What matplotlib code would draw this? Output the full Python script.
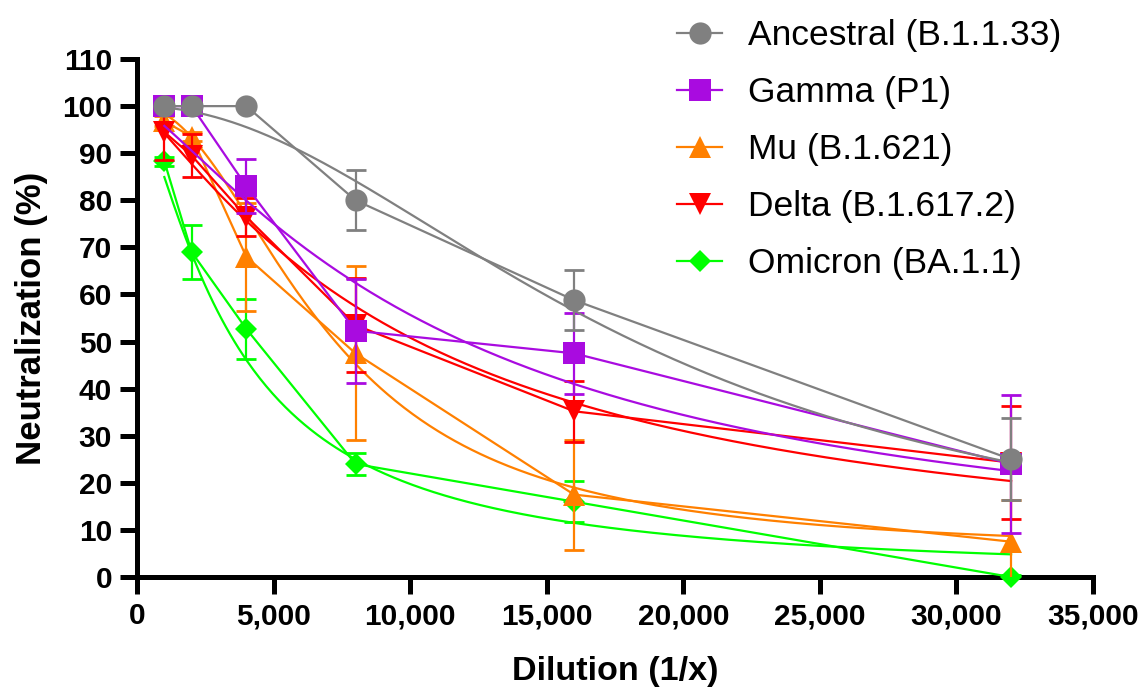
import numpy as np
import matplotlib
matplotlib.use("Agg")
import matplotlib.pyplot as plt

plt.rcParams['font.family'] = ['Liberation Sans', 'DejaVu Sans']

# dilution points (1/x)
dilution = [1000, 2000, 4000, 8000, 16000, 32000]

variants = ['Ancestral (B.1.1.33)', 'Gamma (P1)', 'Mu (B.1.621)',
            'Delta (B.1.617.2)', 'Omicron (BA.1.1)']

# mean neutralization (%)
ancestral = [100, 100, 100, 80.0, 58.8, 25.0]
gamma = [100, 100, 83.0, 52.3, 47.5, 24.0]
mu = [96.8, 93.5, 68.0, 47.5, 17.5, 7.5]
delta = [94.5, 89.5, 76.5, 53.5, 35.2, 24.3]
omicron = [88.3, 69.0, 52.7, 24.0, 16.0, 0.0]

# error (+/-)
ancestral_err = [0, 0, 0, 6.4, 6.4, 8.7]
gamma_err = [0, 0, 5.7, 11.0, 8.6, 14.7]
mu_err = [1.0, 1.0, 11.5, 18.5, 11.7, 8.8]
delta_err = [6.0, 4.5, 4.0, 10.0, 6.5, 12.0]
omicron_err = [1.0, 5.8, 6.4, 2.3, 4.4, 0.5]

# four-parameter logistic fit: top, bottom, IC50, hill slope
fit_top = [100, 100, 100, 100, 100]
fit_bottom = [0, 0, 5, 0, 0]
fit_ic50 = [18240, 11985, 6906, 10280, 3567]
fit_hill = [2.02, 1.26, 2.09, 1.20, 1.36]

colors = ['#808080', '#A90BE0', '#FF8000', '#FF0000', '#00FF00']
markers = ['o', 's', '^', 'v', 'D']
msizes = [16, 15.5, 16, 16, 11.5]

means = [ancestral, gamma, mu, delta, omicron]
errs = [ancestral_err, gamma_err, mu_err, delta_err, omicron_err]
# drawing order (top of stack last)
zorders = [10, 8, 6, 7, 4]

fig = plt.figure(figsize=(11.4, 6.88), dpi=100)
ax = fig.add_axes([0.1202, 0.1613, 0.8386, 0.7529])

xfit = np.linspace(dilution[0], dilution[-1], 400)
handles = []
for i in range(len(variants)):
    z = zorders[i]
    c = colors[i]
    ax.errorbar(dilution, means[i], yerr=errs[i], fmt='none', ecolor=c,
                elinewidth=1.6, capsize=7.5, capthick=2.0, zorder=z)
    yfit = fit_bottom[i] + (fit_top[i] - fit_bottom[i]) / (1 + (xfit / fit_ic50[i]) ** fit_hill[i])
    ax.plot(xfit, yfit, color=c, lw=1.6, zorder=z)
    h, = ax.plot(dilution, means[i], color=c, lw=1.6, marker=markers[i],
                 markersize=msizes[i], markeredgewidth=0, zorder=z + 0.5,
                 clip_on=False, label=variants[i])
    handles.append(h)

ax.set_xlim(0, 35000)
ax.set_ylim(0, 110)
ax.set_xticks(np.arange(0, 35001, 5000))
ax.set_yticks(np.arange(0, 111, 10))
ax.set_xticklabels([f'{v:,}' for v in range(0, 35001, 5000)])

for s in ['top', 'right']:
    ax.spines[s].set_visible(False)
for s in ['left', 'bottom']:
    ax.spines[s].set_linewidth(3.6)
ax.tick_params(axis='both', length=12, width=3.6, labelsize=21.5, pad=6)
for lab in ax.get_xticklabels() + ax.get_yticklabels():
    lab.set_fontweight('bold')

ax.set_xlabel('Dilution (1/x)', fontsize=24.6, fontweight='bold', labelpad=19)
ax.set_ylabel('Neutralization (%)', fontsize=25, fontweight='bold', labelpad=10)

fig.legend(handles=handles, loc='upper left', bbox_to_anchor=(0.5815, 0.993),
           frameon=False, fontsize=25.5, handlelength=1.27, handletextpad=0.73,
           labelspacing=0.68, borderaxespad=0.0)

fig.savefig('out.png', dpi=100)
